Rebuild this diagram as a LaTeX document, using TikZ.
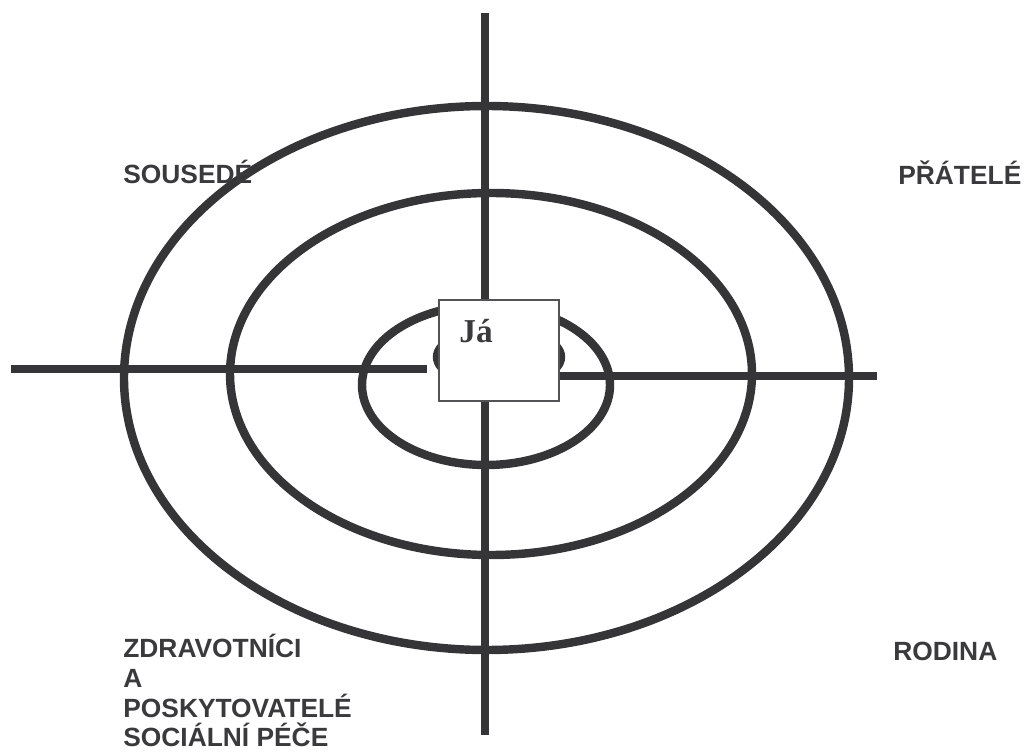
\documentclass[tikz,border=0pt]{standalone}
\usepackage{fontspec}
\setmainfont{Liberation Serif}
\setsansfont{Liberation Sans}
\usepackage{xcolor}
\usetikzlibrary{positioning,calc}
\definecolor{ecdark}{HTML}{353437}
\definecolor{ectext}{HTML}{3A393C}
\tikzset{
  ecring/.style={draw=ecdark, line width=4.8pt},
  ecaxis/.style={draw=ecdark, line width=4.6pt},
  ecself/.style={
    rectangle, draw=ecdark!85, fill=white, line width=0.8pt,
    minimum width=2.4cm, minimum height=2.02cm, inner sep=0pt
  },
  ecselftext/.style={font=\fontsize{19}{22}\selectfont\bfseries, text=ectext, inner sep=0pt},
  eclabel/.style={font=\sffamily\bfseries\fontsize{15}{16.9}\selectfont, text=ectext,
    inner sep=0pt, align=left, anchor=base west}
}
\begin{document}
\begin{tikzpicture}[x=0.02cm,y=0.02cm]
  \useasboundingbox (0,0) rectangle (1025,-753);
  % rings
  \draw[ecring] (486.5,-378) ellipse [x radius=362.5, y radius=272];
  \draw[ecring] (491,-374) ellipse [x radius=261, y radius=181];
  \draw[ecring] (486,-385) ellipse [x radius=124, y radius=80];
  \draw[ecring] (499,-357) ellipse [x radius=62, y radius=28];
  % axes
  \coordinate (top) at (485,-13);
  \coordinate (bottom) at (485,-735);
  \coordinate (leftend) at (11,-369);
  \coordinate (leftstop) at (427,-369);
  \coordinate (rightstart) at (555,-376);
  \coordinate (rightend) at (877,-376);
  \draw[ecaxis] (top) -- (bottom);
  \draw[ecaxis] (leftend) -- (leftstop);
  \draw[ecaxis] (rightstart) -- (rightend);
  % centre
  \node[ecself] (ja) at (499,-350.5) {};
  \node[ecselftext] (jatext) at (476,-331) {Já};
  % quadrants
  \node[eclabel] (sousede) at (123,-184) {SOUSEDÉ};
  \node[eclabel] (pratele) at (898,-185) {PŘÁTELÉ};
  \node[eclabel] (rodina) at (893,-660) {RODINA};
  \node[eclabel, anchor=north west] (zdravotnici) at (123,-634)
    {ZDRAVOTNÍCI\\A\\POSKYTOVATELÉ\\SOCIÁLNÍ PÉČE};
\end{tikzpicture}
\end{document}
